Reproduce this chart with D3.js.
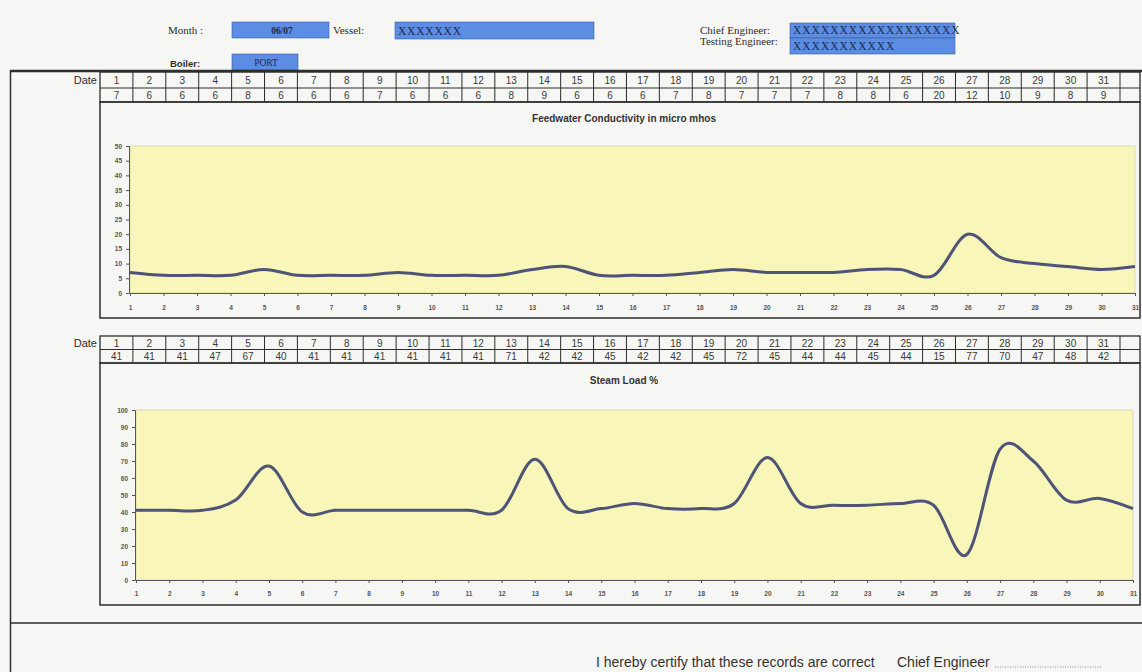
<!DOCTYPE html>
<html>
<head>
<meta charset="utf-8">
<script src="https://cdn.jsdelivr.net/npm/d3@7"></script>
<style>
  html, body { margin: 0; padding: 0; background: #f6f6f4; }
  svg { display: block; }
</style>
</head>
<body>
<svg id="sheet" width="1142" height="672"></svg>
<script>
// Daily boiler water log
const dates = [1, 2, 3, 4, 5, 6, 7, 8, 9, 10, 11, 12, 13, 14, 15, 16,
               17, 18, 19, 20, 21, 22, 23, 24, 25, 26, 27, 28, 29, 30, 31];
const conductivity = [7, 6, 6, 6, 8, 6, 6, 6, 7, 6, 6, 6, 8, 9, 6, 6,
                      6, 7, 8, 7, 7, 7, 8, 8, 6, 20, 12, 10, 9, 8, 9];
const steamLoad = [41, 41, 41, 47, 67, 40, 41, 41, 41, 41, 41, 41, 71, 42, 42, 45,
                   42, 42, 45, 72, 45, 44, 44, 45, 44, 15, 77, 70, 47, 48, 42];
const conductivityTicks = [0, 5, 10, 15, 20, 25, 30, 35, 40, 45, 50];
const steamLoadTicks = [0, 10, 20, 30, 40, 50, 60, 70, 80, 90, 100];

const svg = d3.select("#sheet");
const ink = "#2e2e2e";
const boxBlue = "#5b8de2";
const lineColor = "#4d5478";

const serif = "'Liberation Serif', 'DejaVu Serif', serif";
const sans = "'Liberation Sans', Arial, sans-serif";

function label(x, y, text, opts = {}) {
  return svg.append("text")
    .attr("x", x).attr("y", y)
    .attr("font-family", opts.family || serif)
    .attr("font-size", opts.size || 12)
    .attr("font-weight", opts.weight || "normal")
    .attr("fill", opts.fill || ink)
    .attr("text-anchor", opts.anchor || "start")
    .attr("letter-spacing", opts.spacing || 0)
    .text(text);
}
function field(x, y, w, h, text, opts = {}) {
  svg.append("rect").attr("x", x).attr("y", y).attr("width", w).attr("height", h)
    .attr("fill", boxBlue).attr("stroke", "#3f5f9a").attr("stroke-width", 0.6);
  if (text) {
    label(opts.tx != null ? opts.tx : x + 3, y + h - 4, text, {
      size: opts.size || 11.5, fill: "#1d2a4d", weight: opts.weight || "normal",
      anchor: opts.anchor || "start", family: serif, spacing: opts.spacing || 0
    });
  }
}

// ---- header fields ----
label(168, 34, "Month :", { size: 11 });
field(232, 22, 97, 16, "06/07", { tx: 282, anchor: "middle", weight: "bold", size: 9.5 });
label(333, 34, "Vessel:", { size: 11 });
field(395, 22, 199, 17, "XXXXXXX", { spacing: 0.8 });
label(700, 34, "Chief Engineer:", { size: 11 });
field(790, 23, 165, 15, "XXXXXXXXXXXXXXXXXX", { spacing: 1 });
label(700, 45, "Testing Engineer:", { size: 11 });
field(790, 38, 165, 16, "XXXXXXXXXXX", { spacing: 1 });
label(170, 67, "Boiler:", { family: sans, size: 9.5, weight: "bold" });
field(232, 54, 66, 16, "PORT", { tx: 266, anchor: "middle", size: 9.5 });

// ---- page frame ----
svg.append("line").attr("x1", 10).attr("x2", 1142).attr("y1", 71).attr("y2", 71)
  .attr("stroke", ink).attr("stroke-width", 2.5);
svg.append("line").attr("x1", 10.5).attr("x2", 10.5).attr("y1", 70).attr("y2", 672)
  .attr("stroke", ink).attr("stroke-width", 1.5);
svg.append("line").attr("x1", 10).attr("x2", 1142).attr("y1", 623).attr("y2", 623)
  .attr("stroke", ink).attr("stroke-width", 1.5);

// ---- one panel: date table + smoothed line chart ----
function drawPanel(cfg) {
  const g = svg.append("g");
  const band = d3.scaleBand().domain(dates).range([100, 1120]).padding(0);
  const [r0, r1, r2] = cfg.rows;

  // table grid
  g.append("rect").attr("x", 100).attr("y", r0).attr("width", 1040).attr("height", r2 - r0)
    .attr("fill", "none").attr("stroke", ink).attr("stroke-width", 1.3);
  g.append("line").attr("x1", 100).attr("x2", 1140).attr("y1", r1).attr("y2", r1)
    .attr("stroke", ink).attr("stroke-width", 1);
  g.selectAll(".col").data(dates).join("line")
    .attr("x1", d => band(d) + band.bandwidth()).attr("x2", d => band(d) + band.bandwidth())
    .attr("y1", r0).attr("y2", r2)
    .attr("stroke", ink).attr("stroke-width", 1);

  g.append("text").attr("x", 97).attr("y", (r0 + r1) / 2 + 4)
    .attr("text-anchor", "end").attr("font-family", sans).attr("font-size", 11)
    .attr("fill", ink).text("Date");
  g.selectAll(".day").data(dates).join("text")
    .attr("x", d => band(d) + band.bandwidth() / 2).attr("y", (r0 + r1) / 2 + 4)
    .attr("text-anchor", "middle").attr("font-family", sans).attr("font-size", 10)
    .attr("fill", "#3a3a3a").text(d => d);
  g.selectAll(".val").data(cfg.values).join("text")
    .attr("x", (d, i) => band(dates[i]) + band.bandwidth() / 2).attr("y", (r1 + r2) / 2 + 4)
    .attr("text-anchor", "middle").attr("font-family", sans).attr("font-size", 10)
    .attr("fill", "#3a3a3a").text(d => d);

  // chart frame
  g.append("rect").attr("x", 100).attr("y", r2).attr("width", 1040).attr("height", cfg.frameBottom - r2)
    .attr("fill", "none").attr("stroke", ink).attr("stroke-width", 1.5);

  g.append("text").attr("x", 624).attr("y", cfg.titleY)
    .attr("text-anchor", "middle").attr("font-family", sans).attr("font-size", 10)
    .attr("font-weight", "bold").attr("fill", "#333").text(cfg.title);

  const x = d3.scalePoint().domain(dates).range([cfg.plot.x0, cfg.plot.x1]);
  const y = d3.scaleLinear().domain([0, d3.max(cfg.ticks)]).range([cfg.plot.y1, cfg.plot.y0]);

  g.append("rect").attr("x", cfg.plot.x0).attr("y", cfg.plot.y0)
    .attr("width", cfg.plot.x1 - cfg.plot.x0).attr("height", cfg.plot.y1 - cfg.plot.y0)
    .attr("fill", "#f8f6b8").attr("stroke", "#c9c8a8").attr("stroke-width", 0.6);

  const yAxis = g.append("g").attr("transform", `translate(${cfg.plot.x0 - 1},0)`)
    .call(d3.axisLeft(y).tickValues(cfg.ticks).tickSize(3).tickPadding(4));
  const xAxis = g.append("g").attr("transform", `translate(0,${cfg.plot.y1})`)
    .call(d3.axisBottom(x).tickSize(3).tickPadding(cfg.xPad));
  [yAxis, xAxis].forEach(a => {
    a.select(".domain").attr("stroke", "#555").attr("stroke-width", 1);
    a.selectAll(".tick line").attr("stroke", "#555");
    a.selectAll(".tick text").attr("font-family", sans).attr("font-size", 6.5)
      .attr("font-weight", "bold").attr("fill", "#555");
  });

  const line = d3.line()
    .x((d, i) => x(dates[i]))
    .y(d => y(d))
    .curve(d3.curveCatmullRom.alpha(0));
  g.append("path").datum(cfg.values)
    .attr("d", line).attr("fill", "none")
    .attr("stroke", lineColor).attr("stroke-width", 3).attr("stroke-linejoin", "round");
}

drawPanel({
  rows: [72, 88, 102],
  frameBottom: 318,
  title: "Feedwater Conductivity in micro mhos",
  titleY: 122,
  values: conductivity,
  ticks: conductivityTicks,
  plot: { x0: 130, x1: 1135, y0: 146, y1: 293 },
  xPad: 9
});

drawPanel({
  rows: [336, 349.5, 363],
  frameBottom: 605,
  title: "Steam Load %",
  titleY: 384,
  values: steamLoad,
  ticks: steamLoadTicks,
  plot: { x0: 136, x1: 1133, y0: 410, y1: 580 },
  xPad: 8
});

// ---- certification line ----
label(596, 667, "I hereby certify that these records are correct", { family: sans, size: 14, fill: "#333" });
label(897, 667, "Chief Engineer", { family: sans, size: 14, fill: "#333" });
svg.append("line").attr("x1", 995).attr("x2", 1101).attr("y1", 667).attr("y2", 667)
  .attr("stroke", "#777").attr("stroke-width", 0.8).attr("stroke-dasharray", "1,1.5");
</script>
</body>
</html>
